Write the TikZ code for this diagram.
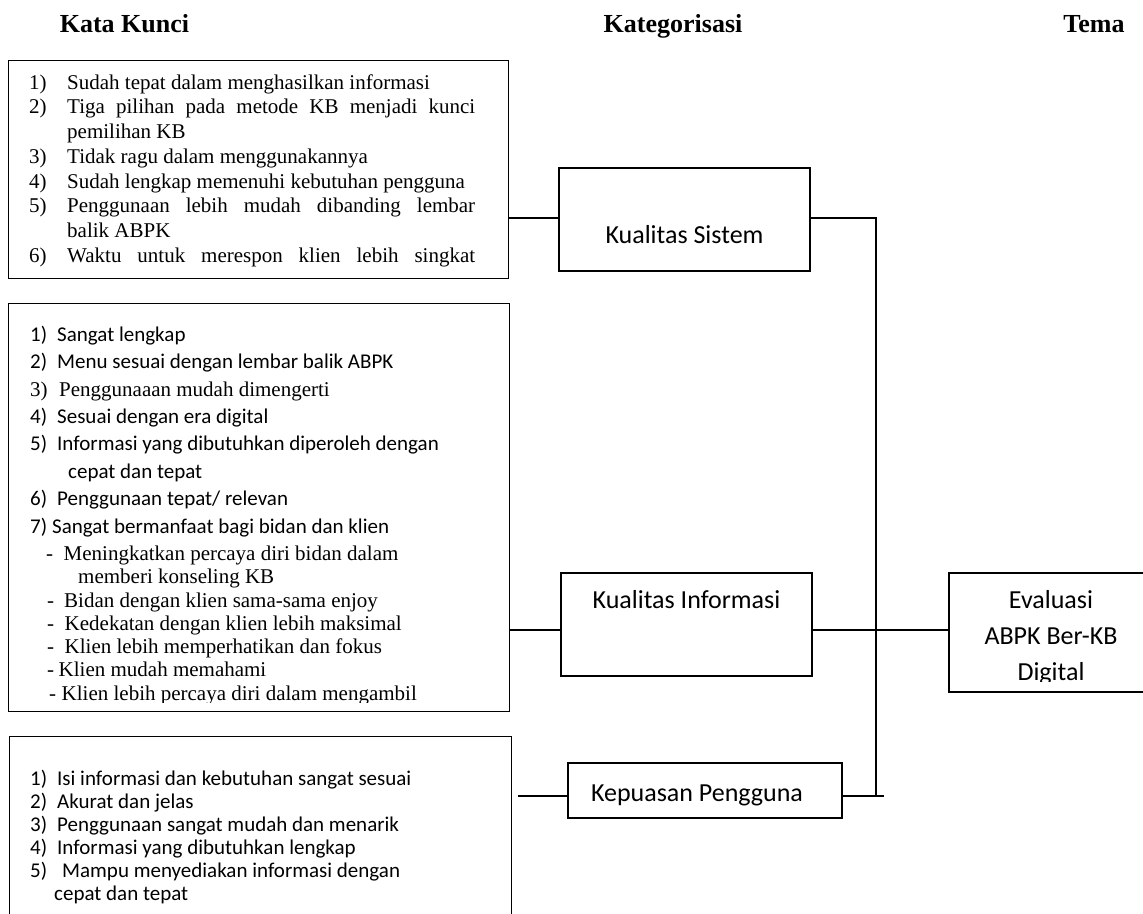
\documentclass[tikz,border=0pt]{standalone}
\usepackage{fontspec}
\setmainfont{Liberation Serif}
\newfontfamily\calibri{Carlito}
\usetikzlibrary{positioning}
\tikzset{
  kwbox/.style={rectangle, draw, line width=1.3pt, anchor=north west, inner sep=0pt},
  kwlist/.style={anchor=north west, inner sep=0pt, align=left},
  catbox/.style={rectangle, draw, line width=1.3pt, inner sep=0pt},
  cattext/.style={font=\calibri\fontsize{26}{36}\selectfont, inner sep=0pt, align=center},
  header/.style={font=\bfseries\fontsize{26}{30}\selectfont, inner sep=0pt, anchor=base},
  link/.style={line width=1.3pt},
}
\newcommand{\kwnum}[2]{\noindent\hangindent=38pt\hangafter=1\makebox[38pt][l]{#1}#2\par}

\begin{document}
\begin{tikzpicture}[x=1pt, y=-1pt]
  \useasboundingbox (0,0) rectangle (1143,913);
  % column heads
  \node[header] (hkata) at (124.5,32) {Kata Kunci};
  \node[header] (hkat)  at (673,32)   {Kategorisasi};
  \node[header] (htema) at (1094,32)  {Tema};

  % keyword boxes
  \node[kwbox, minimum width=500pt, minimum height=218pt] (kw1) at (8,60) {};
  \node[kwlist, font=\fontsize{21}{24.7}\selectfont, text width=446pt, align=justify,
        below right=13pt and 21pt of kw1.north west] (kw1list) {%
    \kwnum{1)}{\rule{0pt}{16pt}Sudah tepat dalam menghasilkan informasi}
    \kwnum{2)}{Tiga pilihan pada metode KB menjadi kunci\linebreak pemilihan KB}
    \kwnum{3)}{Tidak ragu dalam menggunakannya}
    \kwnum{4)}{Sudah lengkap memenuhi kebutuhan pengguna}
    \kwnum{5)}{Penggunaan lebih mudah dibanding lembar\linebreak balik ABPK}
    \kwnum{6)}{Waktu untuk merespon klien lebih singkat\parfillskip=0pt}};

  \node[kwbox, minimum width=501pt, minimum height=408pt] (kw2) at (8,303) {};
  \begin{scope}
    \clip ([yshift=10pt]kw2.south west) rectangle (kw2.north east);
    \node[kwlist, font=\calibri\fontsize{21}{27.4}\selectfont,
          below right=22pt and 22pt of kw2.north west] (kw2list) {%
      \rule{0pt}{16pt}\makebox[27pt][l]{1)}Sangat lengkap\\
      \makebox[27pt][l]{2)}Menu sesuai dengan lembar balik ABPK\\
      {\rmfamily\makebox[29pt][l]{3)}Penggunaaan mudah dimengerti}\\
      \makebox[27pt][l]{4)}Sesuai dengan era digital\\
      \makebox[27pt][l]{5)}Informasi yang dibutuhkan diperoleh dengan\\
      \hspace*{38pt}cepat dan tepat\\
      \makebox[27pt][l]{6)}Penggunaan tepat/ relevan\\
      \makebox[22pt][l]{7)}Sangat bermanfaat bagi bidan dan klien\\
      {\rmfamily\hspace*{16pt}\makebox[17.5pt][l]{-}Meningkatkan percaya diri bidan dalam}\\[-4.1pt]
      {\rmfamily\hspace*{48pt}memberi konseling KB}\\[-4.1pt]
      {\rmfamily\hspace*{17pt}\makebox[17pt][l]{-}Bidan dengan klien sama-sama enjoy}\\[-4.1pt]
      {\rmfamily\hspace*{17pt}\makebox[17.5pt][l]{-}Kedekatan dengan klien lebih maksimal}\\[-4.1pt]
      {\rmfamily\hspace*{17pt}\makebox[17.5pt][l]{-}Klien lebih memperhatikan dan fokus}\\[-4.1pt]
      {\rmfamily\hspace*{17pt}\makebox[11.5pt][l]{-}Klien mudah memahami}\\[-4.1pt]
      {\rmfamily\hspace*{19pt}\makebox[12.5pt][l]{-}Klien lebih percaya diri dalam mengambil}};
  \end{scope}

  \node[kwbox, minimum width=502pt, minimum height=230pt] (kw3) at (9,736) {};
  \node[kwlist, font=\calibri\fontsize{21}{23}\selectfont,
        below right=33pt and 21pt of kw3.north west] (kw3list) {%
    \rule{0pt}{16pt}\makebox[27pt][l]{1)}Isi informasi dan kebutuhan sangat sesuai\\
    \makebox[27pt][l]{2)}Akurat dan jelas\\
    \makebox[27pt][l]{3)}Penggunaan sangat mudah dan menarik\\
    \makebox[27pt][l]{4)}Informasi yang dibutuhkan lengkap\\
    \makebox[27pt][l]{5)}\hspace{5pt}Mampu menyediakan informasi dengan\\
    \hspace*{24pt}cepat dan tepat};

  % categories
  \node[catbox, minimum width=251pt, minimum height=103pt] (ks) at (684.5,219.5) {};
  \node[cattext, anchor=base] (kstxt) at ([yshift=-23.5pt]ks.center) {Kualitas Sistem};
  \node[catbox, minimum width=251pt, minimum height=103pt] (ki) at (686.5,624.5) {};
  \node[cattext, anchor=base] (kitxt) at ([yshift=16.5pt]ki.center) {Kualitas Informasi};
  \node[catbox, minimum width=274pt, minimum height=55pt] (kp) at (705,790.5) {};
  \node[cattext, anchor=base] (kptxt) at ([xshift=-8pt, yshift=-10.5pt]kp.center) {Kepuasan Pengguna};

  % theme
  \node[catbox, minimum width=197pt, minimum height=119pt] (eval) at (1047.5,632.5) {};
  \begin{scope}
    \clip (eval.north west) rectangle ([yshift=11pt]eval.south east);
    \node[cattext, anchor=north] (evaltxt) at ([xshift=3.5pt, yshift=44.5pt]eval.center)
      {\rule{0pt}{20pt}Evaluasi\\ABPK Ber-KB\\Digital};
  \end{scope}

  % connectors
  \coordinate (jtop)    at (876,218);
  \coordinate (jbot)    at (876,796);
  \coordinate (kpend)   at (884,796);
  \coordinate (kpstart) at (518,796);
  \draw[link] ([yshift=1.5pt]ks.west) -- ([yshift=1.5pt]ks.west -| kw1.east);
  \draw[link] ([yshift=1.5pt]ks.east) -- (jtop) -- (jbot);
  \draw[link] ([yshift=-5.5pt]ki.west) -- ([yshift=-5.5pt]ki.west -| kw2.east);
  \draw[link] ([yshift=-5.5pt]ki.east) -- ([yshift=-5.5pt]ki.east -| eval.west);
  \draw[link] (kpstart) -- (kpstart -| kp.west);
  \draw[link] (kpend -| kp.east) -- (kpend);
\end{tikzpicture}
\end{document}
